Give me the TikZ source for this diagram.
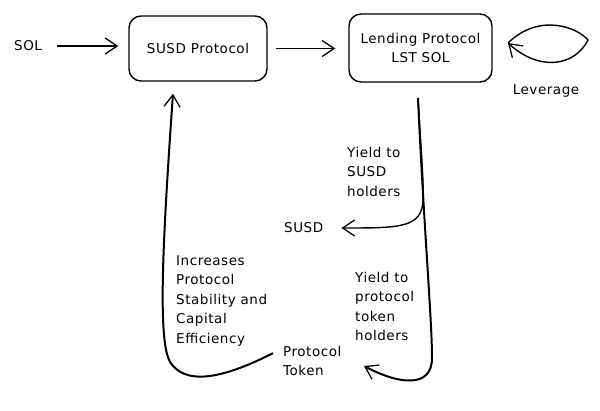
\documentclass[tikz,border=0pt]{standalone}
\usepackage{fontspec}
\setmainfont{DejaVu Sans}[LetterSpace=4]
\usetikzlibrary{arrows.meta}
\begin{document}
\begin{tikzpicture}[x=1pt,y=-1pt,
  lbl/.style={font=\fontsize{13.5}{19.5}\selectfont, inner sep=0pt},
  box/.style={draw, line width=1.4pt, rounded corners=12pt, align=center, font=\fontsize{13.5}{19.5}\selectfont},
  arr/.style={line width=1.4pt, -{Straight Barb[length=12pt,width=16pt,line width=1.3pt]}},
  thick2/.style={line width=2pt}]
\useasboundingbox (0,0) rectangle (600,410);
\node[lbl, anchor=west] (sol) at (14,46) {SOL};
\node[box, minimum width=138pt, minimum height=65pt] (susd) at (198,48.5) {SUSD Protocol};
\node[box, minimum width=143pt, minimum height=68pt] (lend) at (420.5,48) {Lending Protocol\\LST SOL};
\node[lbl] (lev) at (546,91) {Leverage};
\node[lbl, align=left, anchor=north west] (ysusd) at (347,147) {Yield to\\SUSD\\holders};
\node[lbl, anchor=west] (susdt) at (284,228) {SUSD};
\node[lbl, align=left, anchor=north west] (yprot) at (355,272) {Yield to\\protocol\\token\\holders};
\node[lbl, align=left, anchor=north west] (inc) at (176,255) {Increases\\Protocol\\Stability and\\Capital\\Efficiency};
\node[lbl, align=left, anchor=north west] (ptok) at (283,346) {Protocol\\Token};
\coordinate (lendbot) at (418,98);
\coordinate (levL) at (508,43);
\draw[arr] ([xshift=15pt]sol.east) -- ([xshift=-10pt]susd.west |- sol.east);
\draw[arr] ([xshift=8pt]susd.east) -- ([xshift=-13pt]lend.west |- susd.east);
\draw[arr, thick2] (lendbot) .. controls (424,230) and (432,320) .. (432,358) .. controls (432,388) and (400,385) .. (364,366);
\draw[arr] (lendbot) .. controls (421,150) and (424,185) .. (423,200) .. controls (422,228) and (400,228) .. ([xshift=18pt]susdt.east);
\draw[arr, thick2] ([xshift=-10pt,yshift=8pt]ptok.west) .. controls (220,380) and (185,385) .. (170,362) .. controls (158,340) and (162,250) .. ([yshift=-12pt]susd.south -| 173,0);
\draw[arr] (levL) .. controls (540,12) and (578,28) .. (588,40) .. controls (575,66) and (540,72) .. (levL);
\end{tikzpicture}
\end{document}
